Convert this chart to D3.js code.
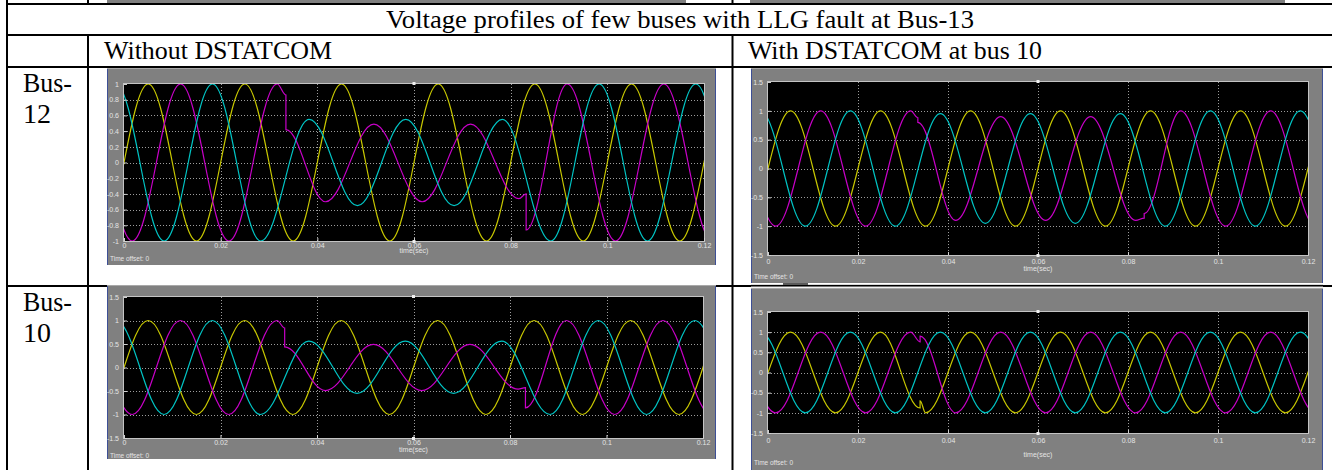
<!DOCTYPE html>
<html>
<head>
<meta charset="utf-8">
<script src="https://cdn.jsdelivr.net/npm/d3@7"></script>
<style>
html, body { margin: 0; padding: 0; background: #fff; }
svg { display: block; }
</style>
</head>
<body>
<svg id="chart" width="1332" height="470"></svg>
<script>
// table texts
var headerTitle = "Voltage profiles of few buses with LLG fault at Bus-13";
var columnTitles = ["Without DSTATCOM", "With DSTATCOM at bus 10"];
var rowTitles = [["Bus-", "12"], ["Bus-", "10"]];

// scope axes
var xTicks = [0, 0.02, 0.04, 0.06, 0.08, 0.1, 0.12];
var xTickLabels = ["0", "0.02", "0.04", "0.06", "0.08", "0.1", "0.12"];
var yTicksFine = [1, 0.8, 0.6, 0.4, 0.2, 0, -0.2, -0.4, -0.6, -0.8, -1];
var yTickLabelsFine = ["1", "0.8", "0.6", "0.4", "0.2", "0", "-0.2", "-0.4", "-0.6", "-0.8", "-1"];
var yTicksWide = [1.5, 1, 0.5, 0, -0.5, -1, -1.5];
var yTickLabelsWide = ["1.5", "1", "0.5", "0", "-0.5", "-1", "-1.5"];

// times of the peaks and troughs of each phase (s)
var yellowTimes  = [-0.005, 0.005, 0.015, 0.025, 0.035, 0.045, 0.055, 0.065, 0.075, 0.085, 0.095, 0.105, 0.115, 0.125];
var magentaTimes = [-0.0083, 0.0017, 0.0117, 0.0217, 0.0317, 0.0417, 0.0517, 0.0617, 0.0717, 0.0817, 0.0917, 0.1017, 0.1117, 0.1217];
var cyanTimes    = [-0.0017, 0.0083, 0.0183, 0.0283, 0.0383, 0.0483, 0.0583, 0.0683, 0.0783, 0.0883, 0.0983, 0.1083, 0.1183, 0.1283];

// Bus-12, without DSTATCOM (peak values, pu)
var yellowA  = [-1, 1, -1, 1, -1, 1, -1, 1, -1, 1, -1, 1, -1, 1];
var magentaA = [1, -1, 1, -1, 1, -0.5, 0.49, -0.5, 0.49, -0.46, 1, -1, 1, -1];
var cyanA    = [1, -1, 1, -1, 0.55, -0.55, 0.55, -0.55, 0.55, -1, 1, -1, 1, -1];
var magentaStepsA = [[0.0335, 0.86, 0.42], [0.0832, -0.4, -0.86]];   // [t, before, after]

// Bus-12, with DSTATCOM at bus 10
var yellowB  = [-1, 1, -1, 1, -1, 1, -1, 1, -1, 1, -1, 1, -1, 1];
var magentaB = [1, -1, 1, -1, 1, -0.9, 0.9, -0.9, 0.9, -0.9, 1, -1, 1, -1];
var cyanB    = [1, -1, 1, -1, 0.95, -0.95, 0.95, -0.95, 0.95, -1, 1, -1, 1, -1];
var magentaStepsB = [[0.0333, 0.88, 0.8], [0.0836, -0.86, -0.78]];

// Bus-10, without DSTATCOM
var yellowC  = [-1, 1, -1, 1, -1, 1, -1, 1, -1, 1, -1, 1, -1, 1];
var magentaC = [1, -1, 1, -1, 1, -0.49, 0.49, -0.49, 0.49, -0.46, 1, -1, 1, -1];
var cyanC    = [1, -1, 1, -1, 0.56, -0.55, 0.56, -0.55, 0.56, -1, 1, -1, 1, -1];
var magentaStepsC = [[0.0333, 0.84, 0.44], [0.0832, -0.43, -0.86]];

// Bus-10, with DSTATCOM at bus 10
var yellowD  = [-1, 1, -1, 1, -1, 1, -1, 1, -1, 1, -1, 1, -1, 1];
var magentaD = [1, -1, 1, -1, 1, -1, 1, -1, 1, -1, 1, -1, 1, -1];
var cyanD    = [1, -1, 1, -1, 1, -1, 1, -1, 1, -1, 1, -1, 1, -1];
var magentaStepsD = [[0.0338, 0.76, 0.9]];
var yellowStepsD  = [[0.0338, -0.88, -0.7]];

var phaseColors = { yellow: "#c8c800", magenta: "#c800c8", cyan: "#00c4c4" };

var svg = d3.select("#chart");

// curve going from one extremum to the next like half a cosine
function curveHalfCos(context) {
  var x0, y0, started;
  return {
    areaStart: function() {}, areaEnd: function() {},
    lineStart: function() { started = false; },
    lineEnd: function() {},
    point: function(x, y) {
      x = +x; y = +y;
      if (!started) { context.moveTo(x, y); started = true; }
      else {
        var k = (x - x0) * 0.3642;
        context.bezierCurveTo(x0 + k, y0, x - k, y, x, y);
      }
      x0 = x; y0 = y;
    }
  };
}

function buildSeries(times, values, steps) {
  var pts = times.map(function(t, i) { return { t: t, v: values[i], k: 0 }; });
  (steps || []).forEach(function(s) {
    pts.push({ t: s[0], v: s[1], k: 1 }, { t: s[0], v: s[2], k: 2 });
  });
  return pts.sort(function(a, b) { return a.t - b.t || a.k - b.k; });
}

// ---- the table ----
var tbl = svg.append("g").attr("stroke", "#000").attr("stroke-width", 2);
[[7, 0, 7, 470], [88, 0, 88, 4], [88, 35, 88, 470], [732.5, 0, 732.5, 4], [732.5, 35, 732.5, 470],
 [6, 4, 1332, 4], [6, 35, 1332, 35], [6, 67, 1332, 67], [6, 286, 1332, 286]].forEach(function(l) {
  tbl.append("line").attr("x1", l[0]).attr("y1", l[1]).attr("x2", l[2]).attr("y2", l[3]);
});

// bottom of the images in the row above
svg.append("rect").attr("x", 107).attr("y", 0).attr("width", 579).attr("height", 3).attr("fill", "#808080");
svg.append("rect").attr("x", 750).attr("y", 0).attr("width", 535).attr("height", 3).attr("fill", "#808080");

var serif = "'Liberation Serif', 'Times New Roman', serif";
function cellText(str, x, y, len, size) {
  svg.append("text").attr("x", x).attr("y", y)
    .attr("font-family", serif).attr("font-size", size)
    .attr("textLength", len).attr("lengthAdjust", "spacingAndGlyphs")
    .text(str);
}
cellText(headerTitle, 386, 28, 588, 25.5);
cellText(columnTitles[0], 104, 59, 228, 25.5);
cellText(columnTitles[1], 748, 59, 294, 25.5);
cellText(rowTitles[0][0], 23, 92, 49, 26.5);
cellText(rowTitles[0][1], 23, 123, 28, 26.5);
cellText(rowTitles[1][0], 23, 311, 49, 26.5);
cellText(rowTitles[1][1], 23, 342, 28, 26.5);

// ---- the four scope pictures ----
var panels = [
  { id: "a", frame: [107, 68, 716, 265], plot: [124, 84, 704, 241], yDomain: [-1, 1],
    yTicks: yTicksFine, yLabels: yTickLabelsFine, xPad: 2, timeY: 253, offsetY: 261,
    traces: [["yellow", yellowTimes, yellowA], ["magenta", magentaTimes, magentaA, magentaStepsA], ["cyan", cyanTimes, cyanA]] },
  { id: "b", frame: [751, 68, 1323, 283], plot: [768, 82, 1308, 255], yDomain: [-1.5, 1.5],
    yTicks: yTicksWide, yLabels: yTickLabelsWide, xPad: 4, timeY: 271, offsetY: 279,
    traces: [["yellow", yellowTimes, yellowB], ["magenta", magentaTimes, magentaB, magentaStepsB], ["cyan", cyanTimes, cyanB]] },
  { id: "c", frame: [107, 285, 716, 459], plot: [124, 297, 703, 438], yDomain: [-1.5, 1.5],
    yTicks: yTicksWide, yLabels: yTickLabelsWide, xPad: 2, timeY: 452, offsetY: 458,
    traces: [["yellow", yellowTimes, yellowC], ["magenta", magentaTimes, magentaC, magentaStepsC], ["cyan", cyanTimes, cyanC]] },
  { id: "d", frame: [751, 288, 1323, 470], plot: [768, 312, 1308, 433], yDomain: [-1.5, 1.5],
    yTicks: yTicksWide, yLabels: yTickLabelsWide, xPad: 5, timeY: 457, offsetY: 465,
    traces: [["yellow", yellowTimes, yellowD, yellowStepsD], ["magenta", magentaTimes, magentaD, magentaStepsD], ["cyan", cyanTimes, cyanD]] }
];

var sans = "'Liberation Sans', Arial, sans-serif";

panels.forEach(function(p) {
  var g = svg.append("g");
  var f = p.frame, b = p.plot;

  g.append("rect").attr("x", f[0]).attr("y", f[1]).attr("width", f[2] - f[0]).attr("height", f[3] - f[1]).attr("fill", "#808080");
  g.append("line").attr("x1", f[0] + 0.5).attr("x2", f[0] + 0.5).attr("y1", f[1]).attr("y2", f[3]).attr("stroke", "#3d4f96");
  g.append("line").attr("x1", f[2] - 0.5).attr("x2", f[2] - 0.5).attr("y1", f[1]).attr("y2", f[3]).attr("stroke", "#3d4f96");
  g.append("line").attr("x1", f[0]).attr("x2", f[2]).attr("y1", f[1] + 0.5).attr("y2", f[1] + 0.5).attr("stroke", "#a8a8a8");

  var x = d3.scaleLinear().domain([0, 0.12]).range([b[0], b[2]]);
  var y = d3.scaleLinear().domain(p.yDomain).range([b[3], b[1]]);

  g.append("rect").attr("x", b[0]).attr("y", b[1]).attr("width", b[2] - b[0]).attr("height", b[3] - b[1]).attr("fill", "#000");

  // dotted grid
  g.selectAll(".vg").data(xTicks.slice(1, -1)).join("line")
    .attr("x1", function(d) { return Math.round(x(d)) + 0.5; }).attr("x2", function(d) { return Math.round(x(d)) + 0.5; })
    .attr("y1", b[1]).attr("y2", b[3])
    .attr("stroke", "#9c9c9c").attr("stroke-dasharray", "1,2");
  g.selectAll(".hg").data(p.yTicks.slice(1, -1)).join("line")
    .attr("y1", function(d) { return Math.round(y(d)) + 0.5; }).attr("y2", function(d) { return Math.round(y(d)) + 0.5; })
    .attr("x1", b[0]).attr("x2", b[2])
    .attr("stroke", "#9c9c9c").attr("stroke-dasharray", "1,2");

  // traces
  g.append("clipPath").attr("id", "clip-" + p.id).append("rect")
    .attr("x", b[0]).attr("y", b[1]).attr("width", b[2] - b[0]).attr("height", b[3] - b[1]);
  var line = d3.line().x(function(d) { return x(d.t); }).y(function(d) { return y(d.v); }).curve(curveHalfCos);
  var tg = g.append("g").attr("clip-path", "url(#clip-" + p.id + ")");
  p.traces.forEach(function(tr) {
    tg.append("path").datum(buildSeries(tr[1], tr[2], tr[3]))
      .attr("d", line).attr("fill", "none")
      .attr("stroke", phaseColors[tr[0]]).attr("stroke-width", 1.2);
  });

  // axes box
  g.append("rect").attr("x", b[0] - 0.5).attr("y", b[1] - 0.5).attr("width", b[2] - b[0] + 1).attr("height", b[3] - b[1] + 1)
    .attr("fill", "none").attr("stroke", "#c4c4c4");

  var ax = g.append("g").attr("transform", "translate(0," + b[3] + ")")
    .call(d3.axisBottom(x).tickValues(xTicks).tickFormat(function(d, i) { return xTickLabels[i]; }).tickSize(-3).tickPadding(p.xPad));
  var ay = g.append("g").attr("transform", "translate(" + b[0] + ",0)")
    .call(d3.axisLeft(y).tickValues(p.yTicks).tickFormat(function(d, i) { return p.yLabels[i]; }).tickSize(-3).tickPadding(5));
  [ax, ay].forEach(function(a) {
    a.attr("font-family", sans).attr("font-size", 7);
    a.select(".domain").remove();
    a.selectAll("line").attr("stroke", "#d0d0d0");
    a.selectAll("text").attr("fill", "#e4e4e4");
  });

  // cursor marks at 0.06
  g.append("rect").attr("x", x(0.06) - 1.5).attr("y", b[1] - 2).attr("width", 3).attr("height", 3).attr("fill", "#f0f0f0");
  g.append("rect").attr("x", x(0.06) - 1.5).attr("y", b[3] - 1).attr("width", 3).attr("height", 3).attr("fill", "#f0f0f0");

  g.append("text").attr("x", (b[0] + b[2]) / 2).attr("y", p.timeY).attr("text-anchor", "middle")
    .attr("font-family", sans).attr("font-size", 7).attr("fill", "#e4e4e4").text("time(sec)");
  g.append("text").attr("x", f[0] + 3).attr("y", p.offsetY)
    .attr("font-family", sans).attr("font-size", 6.5).attr("fill", "#e4e4e4").text("Time offset:  0");
});

// status strip under the upper right scope
svg.append("line").attr("x1", 751).attr("x2", 1323).attr("y1", 284.5).attr("y2", 284.5).attr("stroke", "#d8d8d8");
svg.append("line").attr("x1", 751).attr("x2", 1323).attr("y1", 287).attr("y2", 287).attr("stroke", "#e6e6e6");
svg.append("rect").attr("x", 783).attr("y", 283).attr("width", 25).attr("height", 2).attr("fill", "#5a5a5a");
</script>
</body>
</html>
